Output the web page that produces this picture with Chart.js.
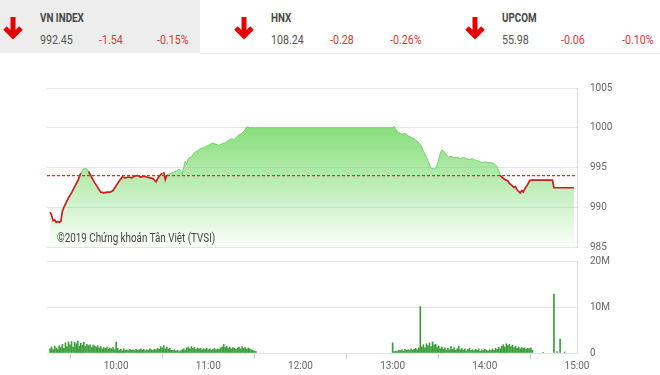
<!DOCTYPE html>
<html>
<head>
<meta charset="utf-8">
<script src="https://cdn.jsdelivr.net/npm/chart.js@4.4.1/dist/chart.umd.min.js"></script>
<style>
  body { margin: 0; width: 660px; height: 375px; background: #fff; position: relative; overflow: hidden;
         font-family: Roboto, "Noto Sans", sans-serif; color: #444; }
  .abs { position: absolute; white-space: nowrap; }
  .sq { transform: scaleX(0.82); transform-origin: 0 50%; }
  .box { left: 0; top: 0; width: 200px; height: 53px; background: #ededed; }
  .rule { left: 200px; top: 53px; width: 460px; height: 1px; background: #e6e6e6; }
  .name { font-weight: bold; font-size: 12px; top: 11px; color: #474747; }
  .num { font-size: 13px; top: 32px; color: #555; }
  .neg { color: #d23b3b; }
  .mark { font-size: 12px; color: #444; left: 57px; top: 231px; }
  #priceBox { left: 0; top: 80px; width: 660px; height: 175px; }
  #volBox { left: 0; top: 255px; width: 660px; height: 120px; }
</style>
</head>
<body>
<div class="abs box"></div>
<div class="abs rule"></div>

<svg class="abs" style="left:0;top:0" width="660" height="53">
  <g fill="none" stroke="#e50000" stroke-width="5" stroke-linejoin="miter">
    <path d="M13 17 V37 M5 28 L13 36 L21 28"/>
    <path d="M244 17 V37 M236 28 L244 36 L252 28"/>
    <path d="M475 17 V37 M467 28 L475 36 L483 28"/>
  </g>
</svg>

<div class="abs sq name" style="left:40px">VN INDEX</div>
<div class="abs sq num" style="left:40px">992.45</div>
<div class="abs sq num neg" style="left:99px">-1.54</div>
<div class="abs sq num neg" style="left:157px">-0.15%</div>

<div class="abs sq name" style="left:271px">HNX</div>
<div class="abs sq num" style="left:271px">108.24</div>
<div class="abs sq num neg" style="left:330px">-0.28</div>
<div class="abs sq num neg" style="left:390px">-0.26%</div>

<div class="abs sq name" style="left:502px">UPCOM</div>
<div class="abs sq num" style="left:502px">55.98</div>
<div class="abs sq num neg" style="left:561px">-0.06</div>
<div class="abs sq num neg" style="left:622px">-0.10%</div>

<div class="abs" id="priceBox"><canvas id="price"></canvas></div>
<div class="abs" id="volBox"><canvas id="vol"></canvas></div>
<div class="abs sq mark">©2019 Chứng khoán Tân Việt (TVSI)</div>

<script>
// VN-Index intraday
const refValue = 993.99;
const priceTimes = [
  '9:17','9:18','9:19','9:20','9:21','9:22','9:23','9:24','9:25','9:26','9:27','9:29','9:31','9:33','9:35','9:37','9:39','9:41','9:42','9:44',
  '9:46','9:48','9:50','9:52','9:54','9:56','9:58','10:00','10:02','10:04','10:06','10:08','10:10','10:12','10:14','10:16','10:18','10:20','10:22','10:24',
  '10:25','10:26','10:27','10:28','10:30','10:31','10:32','10:33','10:35','10:37','10:39','10:41','10:42','10:43','10:44','10:45','10:46','10:47','10:49','10:51',
  '10:53','10:55','10:57','10:59','11:01','11:03','11:05','11:07','11:09','11:11','11:13','11:15','11:17','11:19','11:21','11:23','11:25','11:26','11:27','11:30',
  '13:00','13:01','13:02','13:04','13:06','13:08','13:10','13:12','13:14','13:16','13:18','13:20','13:22','13:24','13:25','13:27','13:28','13:29','13:30','13:31',
  '13:32','13:33','13:35','13:36','13:38','13:40','13:42','13:44','13:46','13:48','13:50','13:52','13:54','13:56','13:58','14:00','14:02','14:04','14:06','14:08',
  '14:09','14:10','14:11','14:13','14:15','14:16','14:18','14:19','14:20','14:21','14:22','14:23','14:24','14:25','14:26','14:27','14:28','14:29','14:30','14:44',
  '14:45','14:58'
];
const priceValues = [
  989.4, 989.0, 988.3, 988.4, 988.1, 988.2, 988.1, 988.2, 989.5, 990.0, 990.4, 991.2, 991.8, 992.6, 993.3, 994.3, 994.9, 994.8, 994.5, 993.8,
  993.1, 992.5, 991.9, 991.8, 991.9, 991.9, 992.1, 992.7, 993.3, 993.8, 993.7, 993.8, 993.7, 993.9, 994.0, 993.8, 993.9, 993.8, 993.7, 993.6,
  993.4, 993.2, 993.6, 993.9, 994.3, 994.4, 993.5, 994.1, 994.2, 994.4, 994.5, 994.8, 994.6, 994.1, 995.0, 995.8, 995.4, 996.2, 996.3, 996.9,
  997.1, 997.4, 997.5, 997.7, 997.9, 998.1, 997.9, 997.8, 998.0, 998.1, 998.4, 998.6, 998.5, 999.0, 999.2, 999.5, 1000.1, 1000.1, 1000.0, 1000.0,
  1000.0, 1000.2, 999.8, 999.4, 999.2, 999.3, 999.0, 998.8, 998.6, 998.3, 997.9, 997.1, 996.3, 995.4, 994.9, 994.8, 994.9, 995.4, 996.0, 996.8,
  997.2, 997.1, 996.6, 996.3, 996.4, 996.2, 996.3, 996.1, 996.3, 996.1, 996.0, 996.1, 995.9, 995.8, 995.6, 995.7, 995.6, 995.6, 995.5, 995.1,
  994.6, 994.0, 993.8, 993.5, 993.3, 993.0, 992.7, 992.5, 992.6, 992.2, 992.0, 991.8, 992.1, 991.9, 992.3, 992.6, 992.9, 993.3, 993.4, 993.4,
  992.45, 992.45
];

// volume per minute, millions of shares
const volMorningStart = '9:17';
const volMorning = [
  0.9, 1.3, 0.7, 1.5, 1.1, 0.8, 1.6, 1.2, 1.9, 1.0,
  2.2, 1.4, 2.4, 1.8, 2.5, 1.3, 2.3, 2.0, 2.6, 1.5,
  2.1, 1.7, 2.3, 1.4, 1.9, 1.6, 1.8, 1.2, 1.7, 1.5,
  1.3, 1.6, 1.1, 1.4, 0.9, 1.2, 1.0, 1.3, 0.8, 1.1,
  0.9, 1.2, 0.7, 2.4, 1.0, 0.6, 0.8, 0.5, 0.9, 0.6,
  0.7, 0.5, 0.8, 0.6, 0.7, 0.5, 0.8, 0.6, 0.7, 0.9,
  0.6, 0.8, 0.5, 0.7, 0.6, 0.9, 0.7, 0.6, 0.8, 0.7,
  1.0, 0.8, 1.4, 1.1, 1.6, 0.9, 1.3, 0.8, 1.0, 0.6,
  0.5, 0.7, 0.4, 0.6, 0.3, 0.5, 0.7, 0.9, 0.6, 1.1,
  1.3, 0.9, 1.4, 1.0, 1.2, 0.8, 1.1, 0.9, 1.0, 0.7,
  0.9, 0.8, 1.0, 0.7, 0.9, 0.6, 0.8, 1.0, 0.7, 0.9,
  0.8, 1.1, 1.3, 1.9, 1.2, 1.5, 1.0, 1.3, 0.9, 1.2,
  1.0, 0.8, 1.1, 1.3, 0.9, 1.4, 1.0, 1.2, 0.8, 1.1,
  0.9, 0.7, 0.6, 0.4, 0.3
];
const volAfternoonStart = '13:00';
const volAfternoon = [
  2.2, 0.3, 0.4, 0.3, 0.6, 0.5, 0.7, 0.4, 0.8, 0.6,
  0.7, 0.5, 0.9, 0.6, 0.8, 1.0, 0.7, 1.1,
  10.1,
  1.3, 1.8, 1.1, 2.0, 1.6, 2.2, 1.4, 2.4, 1.7, 1.9,
  1.2, 1.5, 0.9, 1.3, 0.8, 1.1, 0.6, 1.0, 0.7, 1.4,
  0.8, 1.2, 0.6, 0.9, 1.5, 0.7, 1.0, 0.6, 0.9, 0.5,
  0.8, 1.0, 0.6, 0.7, 0.5, 0.8, 0.6, 0.9, 0.4, 0.7,
  0.5, 0.8, 0.6, 0.4, 0.7, 0.5, 0.9, 0.6, 1.0, 0.8,
  1.2, 0.9, 1.5, 1.8, 1.3, 2.0, 1.6, 1.9, 1.4, 1.7,
  1.2, 1.5, 1.0, 1.3, 0.9, 1.2, 1.0, 1.1, 0.8, 1.0,
  0.9, 1.1, 0.6
];
const volLateTimes = ['14:38', '14:45', '14:47', '14:49', '14:52'];
const volLateValues = [0.1, 12.8, 0.3, 3.0, 0.2];

const xTickLabels = ['10:00', '11:00', '12:00', '13:00', '14:00', '15:00'];
const priceTicks = [985, 990, 995, 1000, 1005];
const volTicks = [0, 10, 20];

function toMin(t) {
  const p = t.split(':');
  return parseInt(p[0]) * 60 + parseInt(p[1]);
}

const xMin = toMin('9:15');
const xMax = toMin('15:00');
const xTickValues = xTickLabels.map(toMin);

const pricePoints = priceTimes.map((t, i) => ({ x: toMin(t), y: priceValues[i] }));
const volPoints = []
  .concat(volMorning.map((v, i) => ({ x: toMin(volMorningStart) + i, y: v })))
  .concat(volAfternoon.map((v, i) => ({ x: toMin(volAfternoonStart) + i, y: v })))
  .concat(volLateTimes.map((t, i) => ({ x: toMin(t), y: volLateValues[i] })));

const tickFont = { family: 'Roboto, "Noto Sans", sans-serif', size: 10 };
const gridColor = '#e4e4e4';
const red = '#c81e1e';
const green = '#79d06b';
const above = ctx => ctx.p0.parsed.y >= refValue && ctx.p1.parsed.y >= refValue;

function greenFill(context) {
  const chart = context.chart;
  const area = chart.chartArea;
  if (!area) return 'rgba(130,222,120,0.5)';
  const top = chart.scales.y.getPixelForValue(1000);
  const g = chart.ctx.createLinearGradient(0, top, 0, area.bottom);
  g.addColorStop(0, 'rgba(128,220,116,0.95)');
  g.addColorStop(1, 'rgba(128,220,116,0.04)');
  return g;
}

// y axis labels sit 13px right of the border; ticks are invisible so the gap
// does not count as vertical padding
const rightAxis = {
  position: 'right',
  afterFit: s => { s.width = 83; },
  grid: { color: gridColor, drawTicks: true, tickLength: 13, tickColor: 'rgba(0,0,0,0)' },
  border: { display: true, color: '#dcdcdc' },
};

new Chart(document.getElementById('price'), {
  type: 'line',
  data: {
    datasets: [{
      // area only
      data: pricePoints,
      borderWidth: 0,
      pointRadius: 0,
      tension: 0,
      fill: 'start',
      backgroundColor: greenFill,
      order: 3
    }, {
      data: pricePoints,
      borderWidth: 1.6,
      pointRadius: 0,
      tension: 0,
      fill: false,
      segment: {
        borderColor: ctx => above(ctx) ? green : red,
        borderWidth: ctx => above(ctx) ? 1 : 1.7
      },
      order: 2
    }, {
      data: [{ x: xMin, y: refValue }, { x: xMax, y: refValue }],
      borderColor: '#ff2020',
      backgroundColor: '#ff2020',
      borderWidth: 1.3,
      borderDash: [3, 2],
      pointRadius: 0,
      fill: false,
      order: 1
    }]
  },
  options: {
    responsive: true,
    maintainAspectRatio: false,
    animation: false,
    layout: { padding: { left: 47, top: 8, bottom: 8, right: 0 } },
    plugins: { legend: { display: false }, tooltip: { enabled: false } },
    scales: {
      x: { type: 'linear', display: false, min: xMin, max: xMax },
      y: Object.assign({}, rightAxis, {
        min: 985, max: 1005,
        afterBuildTicks: s => { s.ticks = priceTicks.map(v => ({ value: v })); },
        ticks: { padding: 0, color: '#666', font: tickFont, callback: v => String(v) }
      })
    }
  }
});

new Chart(document.getElementById('vol'), {
  type: 'bar',
  data: {
    datasets: [{
      data: volPoints,
      backgroundColor: '#3a9d3a',
      barThickness: 1,
      borderWidth: 0
    }]
  },
  options: {
    responsive: true,
    maintainAspectRatio: false,
    animation: false,
    layout: { padding: { left: 47, top: 5, bottom: 0, right: 0 } },
    plugins: { legend: { display: false }, tooltip: { enabled: false } },
    scales: {
      x: {
        type: 'linear', min: xMin, max: xMax, offset: false,
        afterFit: s => { s.height = 22; },
        afterBuildTicks: s => { s.ticks = xTickValues.map(v => ({ value: v })); },
        grid: { drawOnChartArea: false, drawTicks: true, tickLength: 6, color: '#cfcfcf' },
        border: { display: false },
        ticks: {
          autoSkip: false, maxRotation: 0, padding: 1, color: '#666', font: tickFont,
          callback: v => xTickLabels[xTickValues.indexOf(v)]
        }
      },
      y: Object.assign({}, rightAxis, {
        min: 0, max: 20,
        afterBuildTicks: s => { s.ticks = volTicks.map(v => ({ value: v })); },
        ticks: { padding: 0, color: '#666', font: tickFont, callback: v => v === 0 ? '0' : v + 'M' }
      })
    }
  }
});
</script>
</body>
</html>
